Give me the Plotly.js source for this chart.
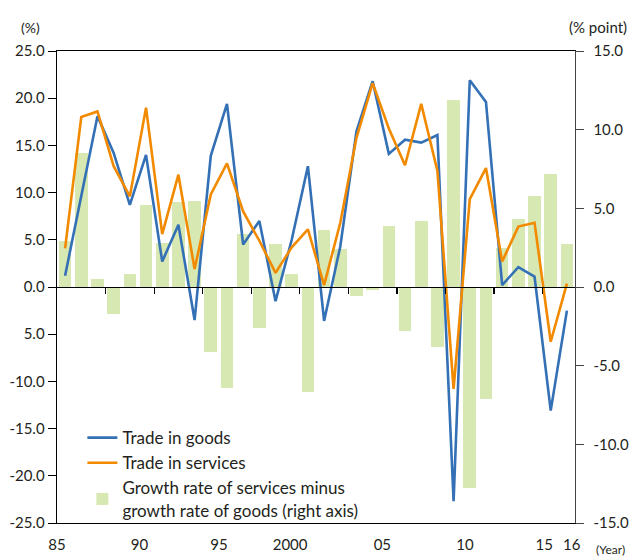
<!DOCTYPE html>
<html>
<head>
<meta charset="utf-8">
<script src="https://cdn.plot.ly/plotly-3.0.1.min.js"></script>
<style>html,body{margin:0;padding:0;background:#fff;}#chart{width:632px;height:556px;}</style>
</head>
<body>
<div id="chart"></div>
<script>
const years = [1985,1986,1987,1988,1989,1990,1991,1992,1993,1994,1995,1996,1997,1998,1999,2000,
               2001,2002,2003,2004,2005,2006,2007,2008,2009,2010,2011,2012,2013,2014,2015,2016];
const tradeGoods = [1.2,9.6,18.1,14.2,8.7,14.0,2.7,6.6,-3.5,13.9,19.4,4.5,7.0,-1.5,5.0,12.8,
                    -3.6,4.3,16.5,21.8,14.1,15.6,15.3,16.1,-22.7,21.9,19.6,0.2,2.1,1.1,-13.1,-2.5];
const tradeServices = [4.1,18.0,18.6,12.8,9.6,19.0,5.6,11.9,1.9,9.8,13.1,8.0,4.9,1.5,4.2,6.1,
                       0.2,6.8,15.8,21.6,16.8,12.9,19.4,12.3,-10.8,9.3,12.6,2.7,6.4,6.8,-5.8,0.35];
const growthDiff = [2.9,8.5,0.5,-1.7,0.85,5.2,2.8,5.4,5.45,-4.1,-6.4,3.4,-2.6,2.75,0.8,-6.7,
                    3.6,2.4,-0.55,-0.2,3.9,-2.8,4.2,-3.8,11.9,-12.8,-7.1,2.5,4.3,5.8,7.2,2.75];
const xTickVals = [1984.5,1989.6,1994.5,1998.9,2004.6,2009.7,2014.6,2016.3];
const xTickText = ['85','90','95','2000','05','10','15','16'];
const leftTickVals = [25,20,15,10,5,0,-5,-10,-15,-20,-25];
const leftTickText = ['25.0','20.0','15.0','10.0','5.0','0.0','5.0','-10.0','-15.0','-20.0','-25.0'];
const rightTickVals = [15,10,5,0,-5,-10,-15];
const rightTickText = ['15.0','10.0','5.0','0.0','-5.0','-10.0','-15.0'];
const zeroTickVals = [1987.5,1990.5,1993.5,1996.5,1999.5,2002.5,2005.5,2008.5,2011.5,2014.5];

const txt = '#231f20';
const fontFam = 'Lato, "Noto Sans", sans-serif';

const traces = [
  {type:'bar', x:years, y:growthDiff, xaxis:'x', yaxis:'y', width:0.78,
   marker:{color:'#d7e8b3', line:{width:0}},
   name:'Growth rate of services minus<br>growth rate of goods (right axis)', legendrank:3},
  {type:'scatter', mode:'lines', x:years, y:tradeGoods, xaxis:'x2', yaxis:'y2',
   line:{color:'#3470b5', width:2.6}, name:'Trade in goods', legendrank:1},
  {type:'scatter', mode:'lines', x:years, y:tradeServices, xaxis:'x2', yaxis:'y2',
   line:{color:'#f28a00', width:2.6}, name:'Trade in services', legendrank:2}
];

const layout = {
  width:632, height:556,
  margin:{l:57, r:57, t:51, b:33},
  paper_bgcolor:'#fff', plot_bgcolor:'#fff',
  font:{family:fontFam, size:15, color:txt},
  showlegend:true,
  legend:{x:0.049, y:0.218, xanchor:'left', yanchor:'top', bgcolor:'rgba(0,0,0,0)',
          font:{size:17, color:txt}, tracegroupgap:0, itemwidth:30},
  bargap:0,
  xaxis:{range:[1984.5,2016.5], showgrid:false, zeroline:false, showline:true, mirror:true,
         linecolor:'#000', linewidth:1.2, ticks:'', tickvals:xTickVals, ticktext:xTickText,
         tickfont:{size:15, color:txt}, ticklabelstandoff:8},
  xaxis2:{range:[1984.5,2016.5], overlaying:'x', anchor:'free', position:0.5, side:'bottom',
          showgrid:false, zeroline:false, showline:true, linecolor:'#000', linewidth:1.4,
          ticks:'outside', ticklen:6, tickcolor:'#000', tickwidth:1.2,
          tickvals:zeroTickVals, showticklabels:false},
  yaxis:{range:[-15,15], side:'right', anchor:'x', showgrid:false, zeroline:false,
         showline:true, linecolor:'#444', linewidth:1.4, ticks:'outside', ticklen:8,
         tickcolor:'#444', tickvals:rightTickVals, ticktext:rightTickText,
         tickfont:{size:15, color:txt}, ticklabelstandoff:6},
  yaxis2:{range:[-25,25], side:'left', overlaying:'y', anchor:'x', showgrid:false, zeroline:false,
          showline:true, linecolor:'#000', linewidth:1.4, ticks:'outside', ticklen:8,
          tickcolor:'#000', tickvals:leftTickVals, ticktext:leftTickText,
          tickfont:{size:15, color:txt}},
  annotations:[
    {text:'(%)', xref:'paper', yref:'paper', x:-0.052, y:1.028, xanchor:'center', yanchor:'bottom',
     showarrow:false, font:{size:14, color:txt}},
    {text:'(% point)', xref:'paper', yref:'paper', x:1.045, y:1.028, xanchor:'center', yanchor:'bottom',
     showarrow:false, font:{size:15, color:txt}},
    {text:'(Year)', xref:'paper', yref:'paper', x:1.1, y:-0.036, xanchor:'right', yanchor:'top',
     showarrow:false, font:{size:12, color:txt}}
  ]
};

Plotly.newPlot('chart', traces, layout, {displayModeBar:false, staticPlot:true});
</script>
</body>
</html>
